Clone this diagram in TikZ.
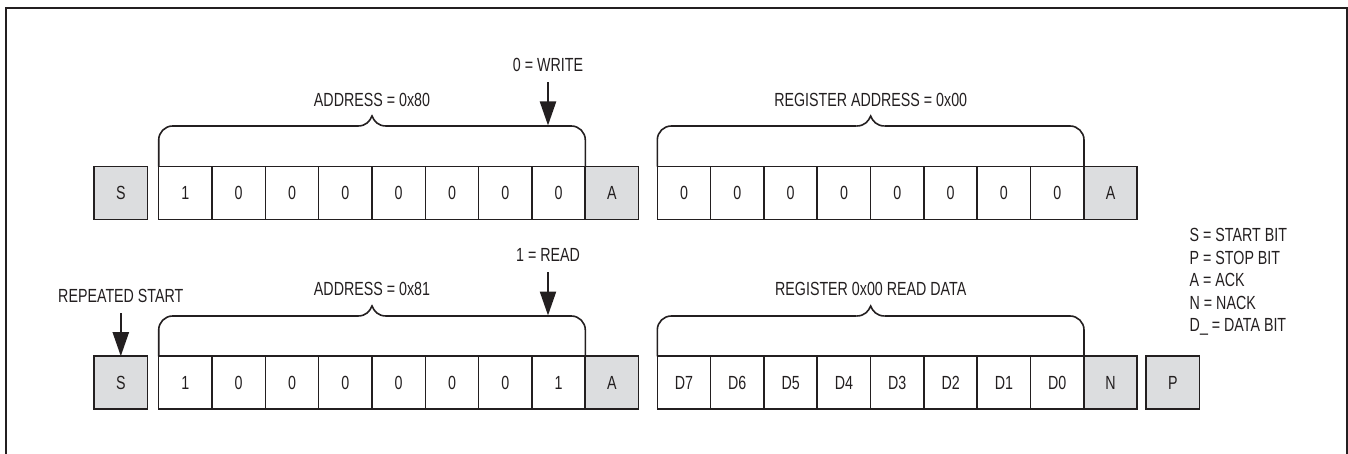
\documentclass[tikz,border=0pt]{standalone}
\usepackage{fontspec}
\setmainfont{Liberation Sans}[FakeStretch=0.75]
\usetikzlibrary{arrows.meta}
\definecolor{ink}{RGB}{35,31,32}
\definecolor{ctlgray}{RGB}{220,221,223}
\tikzset{
  % one bit cell of the frame
  bitc/.style={rectangle, draw=ink, line width=0.8pt, minimum width=26.67pt,
               minimum height=26.5pt, inner sep=0pt, outer sep=0pt, text=ink},
  % start / ack / nack / stop cells
  ctl/.style={bitc, fill=ctlgray},
  brc/.style={draw=ink, line width=0.8pt},
  ar/.style={-{Triangle[length=12pt, width=8pt]}, line width=1.15pt, draw=ink},
  lbl/.style={inner sep=0pt, text=ink}
}

\begin{document}
\begin{tikzpicture}[x=0.5pt, y=-0.5pt, every node/.style={font=\fontsize{9.5}{11.25}\selectfont}]
    \useasboundingbox (0,0) rectangle (1348,454);
    \draw[line width=1pt, draw=ink] (6,454) -- (6,8) -- (1346.6,8) -- (1346.6,454);

    % --- write frame: slave address + register address ---
    \node[ctl] (s1) at (120.8,193.2) {S};
    \foreach \v [count=\i] in {1,0,0,0,0,0,0,0}
      \node[bitc] (aw\i) at ({158.7+53.33*\i-26.67},193.2) {\v};
    \node[ctl] (ack1) at (611.8,193.2) {A};
    \foreach \v [count=\i] in {0,0,0,0,0,0,0,0}
      \node[bitc] (rg\i) at ({657.3+53.33*\i-26.67},193.2) {\v};
    \node[ctl] (ack2) at (1110.5,193.2) {A};

    % --- read frame: repeated start + slave address + data ---
    \node[ctl] (s2) at (120.8,382.7) {S};
    \foreach \v [count=\i] in {1,0,0,0,0,0,0,1}
      \node[bitc] (ar\i) at ({158.7+53.33*\i-26.67},382.7) {\v};
    \node[ctl] (ack3) at (611.8,382.7) {A};
    \foreach \v [count=\i] in {D7,D6,D5,D4,D3,D2,D1,D0}
      \node[bitc] (dt\i) at ({657.3+53.33*\i-26.67},382.7) {\v};
    \node[ctl] (nack) at (1110.5,382.7) {N};
    \node[ctl] (stp) at (1172.8,382.7) {P};

    % --- braces over the bytes ---
    \foreach \xa/\xb/\yb/\yc in {158.7/585.3/126/166.7, 657.3/1084/126/166.7,
                                 158.7/585.3/316/356.3, 657.3/1084/316/356.3}{
      \pgfmathsetmacro\xm{(\xa+\xb)/2}
      \draw[brc, rounded corners=7pt] (\xa,\yc) |- (\xm-14,\yb);
      \draw[brc] (\xm-14,\yb) .. controls (\xm-6,\yb) and (\xm-2,\yb-5) .. (\xm,\yb-10)
                 .. controls (\xm+2,\yb-5) and (\xm+6,\yb) .. (\xm+14,\yb);
      \draw[brc, rounded corners=7pt] (\xm+14,\yb) -| (\xb,\yc);
    }
    \node[lbl, anchor=base] (adw) at (372,106.5) {ADDRESS = 0x80};
    \node[lbl, anchor=base] (rga) at (870.7,106.5) {REGISTER ADDRESS = 0x00};
    \node[lbl, anchor=base] (adr) at (372,295.5) {ADDRESS = 0x81};
    \node[lbl, anchor=base] (rgd) at (870.7,295.5) {REGISTER 0x00 READ DATA};

    % --- read/write bit and repeated start markers ---
    \node[lbl, anchor=base] (wr) at (548,71.5) {0 = WRITE};
    \coordinate (wrend) at (548,125.5);
    \draw[ar, shorten <=5pt] (wr.south) -- (wrend);
    \node[lbl, anchor=base] (rd) at (548,262) {1 = READ};
    \coordinate (rdend) at (548,315.5);
    \draw[ar, shorten <=5pt] (rd.south) -- (rdend);
    \node[lbl, anchor=base] (rs) at (120.8,302.5) {REPEATED START};
    \draw[ar, shorten <=5pt] (rs.south) -- (s2.north);

    % --- legend ---
    \foreach \t [count=\i] in {S = START BIT, P = STOP BIT, A = ACK, N = NACK, D\_ = DATA BIT}
      \node[lbl, anchor=base west] (lg\i) at (1189.3,{241.5+22.5*(\i-1)}) {\t};
  \end{tikzpicture}
\end{document}
